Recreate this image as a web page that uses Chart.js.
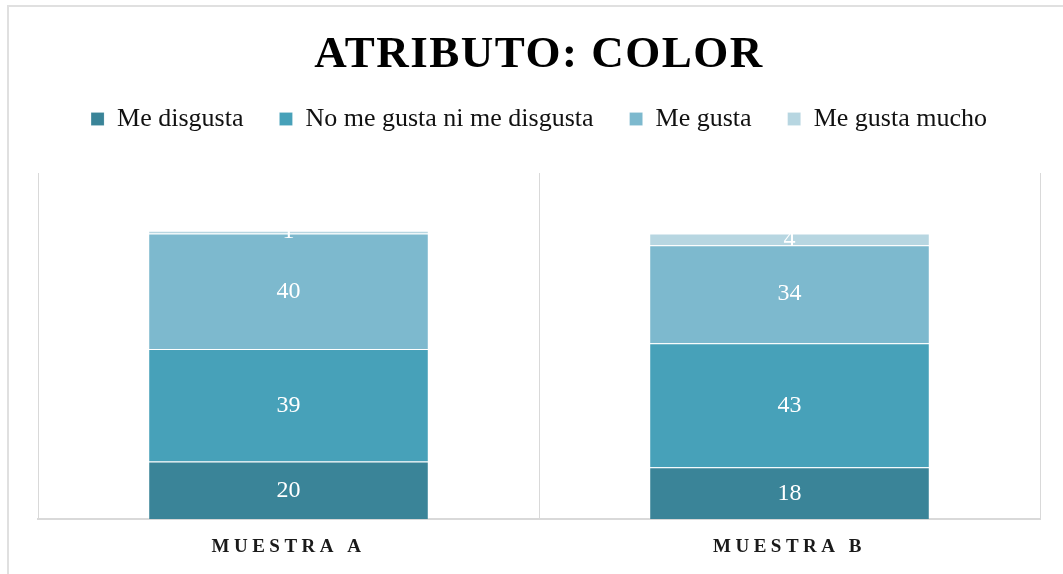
<!DOCTYPE html>
<html lang="es">
<head>
<meta charset="utf-8">
<title>Atributo: color</title>
<script src="https://cdn.jsdelivr.net/npm/chart.js@4.4.1/dist/chart.umd.min.js"></script>
<style>
  html, body { margin: 0; padding: 0; background: #fff; overflow: hidden; }
  .frame {
    position: absolute; left: 7px; top: 5px;
    width: 1100px; height: 600px;
    border: 2px solid #e0e0e0;
  }
  #chart { position: absolute; left: 0; top: 0; }
</style>
</head>
<body>
<div class="frame"></div>
<canvas id="chart" width="1063" height="574"></canvas>
<script>
// Categories and series (number of answers per sample)
const muestras = ['MUESTRA A', 'MUESTRA B'];
const meDisgusta = [20, 18];
const niGustaNiDisgusta = [39, 43];
const meGusta = [40, 34];
const meGustaMucho = [1, 4];

const serieNombres = ['Me disgusta', 'No me gusta ni me disgusta', 'Me gusta', 'Me gusta mucho'];
const serieColores = ['#3a8498', '#47a1b9', '#7db9ce', '#b7d6e1'];
const yMax = 120;

const serif = "'Liberation Serif', 'Times New Roman', serif";

// Wraps a draw method so its text gets letter spacing
function withSpacing(box, method, gap) {
  if (!box || box['_spaced_' + method]) return;
  const orig = box[method].bind(box);
  box[method] = function (...args) {
    const ctx = this.ctx;
    ctx.save();
    ctx.letterSpacing = gap;
    orig(...args);
    ctx.restore();
  };
  box['_spaced_' + method] = true;
}

const layoutTweaks = {
  id: 'layoutTweaks',
  afterInit(chart) {
    withSpacing(chart.titleBlock, 'draw', '1.5px');
    // leave room between the legend row and the plot area
    const legend = chart.legend;
    const fit = legend.fit.bind(legend);
    legend.fit = function () {
      fit();
      this.height = 103;
    };
  },
  beforeDraw(chart) {
    withSpacing(chart.scales.x, 'drawLabels', '4.5px');
  }
};

// Value labels in the middle of each stacked segment
const segmentLabels = {
  id: 'segmentLabels',
  afterDatasetsDraw(chart) {
    const ctx = chart.ctx;
    ctx.save();
    ctx.font = '24px ' + serif;
    ctx.fillStyle = '#ffffff';
    ctx.textAlign = 'center';
    ctx.textBaseline = 'middle';
    chart.data.datasets.forEach((ds, i) => {
      const meta = chart.getDatasetMeta(i);
      if (meta.hidden) return;
      meta.data.forEach((bar, j) => {
        const { x, y, base } = bar.getProps(['x', 'y', 'base'], true);
        ctx.fillText(String(ds.data[j]), x, (y + base) / 2);
      });
    });
    ctx.restore();
  }
};

const series = [meDisgusta, niGustaNiDisgusta, meGusta, meGustaMucho];

new Chart(document.getElementById('chart'), {
  type: 'bar',
  data: {
    labels: muestras,
    datasets: series.map((values, i) => ({
      label: serieNombres[i],
      data: values,
      backgroundColor: serieColores[i],
      borderColor: 'rgba(255,255,255,0.15)',
      borderWidth: 1,
      barPercentage: 0.56,
      categoryPercentage: 1
    }))
  },
  options: {
    responsive: false,
    devicePixelRatio: 1,
    animation: false,
    layout: { padding: { top: 0, left: 38, right: 23, bottom: 0 } },
    scales: {
      x: {
        stacked: true,
        grid: { color: '#d9d9d9', drawTicks: false, offset: true },
        border: { color: '#d9d9d9', width: 2 },
        ticks: {
          padding: 16,
          color: '#1a1a1a',
          font: { family: serif, size: 19, weight: 'bold' }
        }
      },
      y: {
        stacked: true,
        display: false,
        min: 0,
        max: yMax
      }
    },
    plugins: {
      title: {
        display: true,
        text: 'ATRIBUTO: COLOR',
        color: '#000',
        font: { family: serif, size: 45, weight: 'bold', lineHeight: 0.6 },
        padding: { top: 41.5, bottom: 1.5 }
      },
      legend: {
        position: 'top',
        labels: {
          color: '#111',
          font: { family: serif, size: 26 },
          boxWidth: 13,
          boxHeight: 13,
          padding: 36
        }
      },
      tooltip: { enabled: false }
    }
  },
  plugins: [layoutTweaks, segmentLabels]
});
</script>
</body>
</html>
